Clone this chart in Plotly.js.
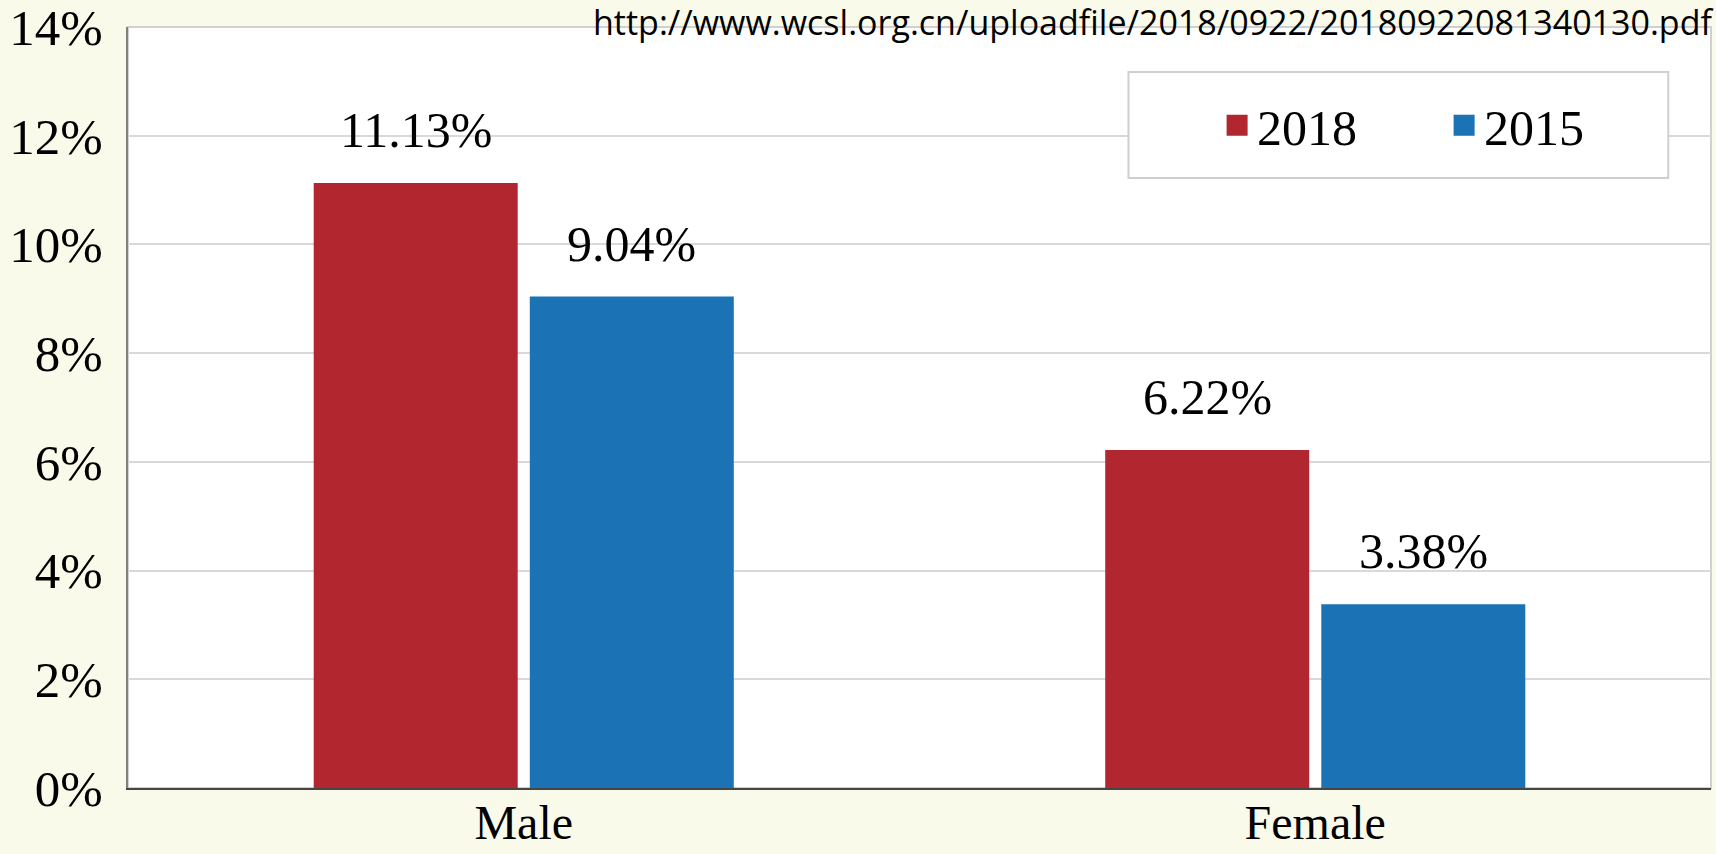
<!DOCTYPE html>
<html>
<head>
<meta charset="utf-8">
<script src="https://cdn.plot.ly/plotly-3.0.1.min.js"></script>
<style>html,body{margin:0;padding:0;background:#FAFAEA;}#chart{width:1716px;height:854px;}</style>
</head>
<body>
<div id="chart"></div>
<script>
var categories = ["Male", "Female"];
var seriesNames = ["2018", "2015"];
var values2018 = [11.13, 6.22];
var values2015 = [9.04, 3.38];
var yTickVals = [0, 2, 4, 6, 8, 10, 12, 14];
var yTickText = ["0%", "2%", "4%", "6%", "8%", "10%", "12%", "14%"];
var sourceText = "http://www.wcsl.org.cn/uploadfile/2018/0922/20180922081340130.pdf";

var colors = ["#B1262F", "#1B72B4"];
var serif = "Liberation Serif, Times New Roman, serif";
var W = 1716, H = 854;
var margin = {l: 128, r: 5, t: 27, b: 66};
var bargap = 0.454, bargroupgap = 0.056;

var allSeries = [values2018, values2015];
var traces = [];
allSeries.forEach(function (vals, i) {
  traces.push({
    type: "bar", x: categories, y: vals, name: seriesNames[i],
    marker: {color: colors[i]}, showlegend: false, hoverinfo: "x+y"
  });
});
// legend entries
seriesNames.forEach(function (n, i) {
  traces.push({
    type: "scatter", mode: "markers", x: [null], y: [null], name: n,
    marker: {symbol: "square", size: 16, color: colors[i], line: {color: colors[i], width: 5}},
    showlegend: true, hoverinfo: "skip"
  });
});

// value labels above bars
var plotW = W - margin.l - margin.r;
var catPx = plotW / categories.length;
var slot = (1 - bargap) * catPx / allSeries.length;
var annotations = [];
allSeries.forEach(function (vals, i) {
  var shift = (i - (allSeries.length - 1) / 2) * slot;
  vals.forEach(function (v, j) {
    annotations.push({
      x: categories[j], y: v, xref: "x", yref: "y", text: v.toFixed(2) + "%",
      showarrow: false, xanchor: "center", yanchor: "bottom", xshift: shift, yshift: 23,
      font: {family: serif, size: 50, color: "#000"}
    });
  });
});
annotations.push({
  xref: "paper", yref: "paper", x: 1, y: 1, xanchor: "right", yanchor: "bottom",
  xshift: 4, yshift: -20, text: sourceText, showarrow: false,
  font: {family: "Liberation Sans Narrow, Open Sans, sans-serif", size: 34, color: "#000"}
});

var layout = {
  width: W, height: H, margin: margin,
  paper_bgcolor: "#FAFAEA", plot_bgcolor: "#FFFFFF",
  barmode: "group", bargap: bargap, bargroupgap: bargroupgap,
  font: {family: serif, size: 50, color: "#000"},
  xaxis: {
    type: "category", range: [-0.5, 1.5], showgrid: false, ticks: "",
    showline: true, linecolor: "#454545", linewidth: 2,
    tickfont: {family: serif, size: 48, color: "#000"}, ticklabelstandoff: -9
  },
  yaxis: {
    range: [0, 14], tickvals: yTickVals, ticktext: yTickText, ticks: "",
    showgrid: true, gridcolor: "#D9D9D9", gridwidth: 2, zeroline: false,
    showline: true, linecolor: "#808080", linewidth: 2, ticklabeloverflow: "allow",
    tickfont: {family: serif, size: 51, color: "#000"}, ticklabelstandoff: 13
  },
  showlegend: true,
  legend: {
    orientation: "h", x: 0.688, xanchor: "left", y: 0.871, yanchor: "middle",
    bgcolor: "rgba(0,0,0,0)", borderwidth: 0, entrywidth: 182,
    font: {family: serif, size: 50, color: "#000"}
  },
  shapes: [
    {type: "rect", xref: "paper", yref: "paper", x0: 0, x1: 1, y0: 0, y1: 1,
     line: {color: "#D0D0D0", width: 2}, layer: "below"},
    {type: "rect", xref: "paper", yref: "paper", x0: 0.632, x1: 0.973, y0: 0.8015, y1: 0.941,
     fillcolor: "#FFFFFF", line: {color: "#CFCFCF", width: 2}, layer: "above"}
  ],
  annotations: annotations
};

Plotly.newPlot("chart", traces, layout, {displayModeBar: false, staticPlot: true});
</script>
</body>
</html>
